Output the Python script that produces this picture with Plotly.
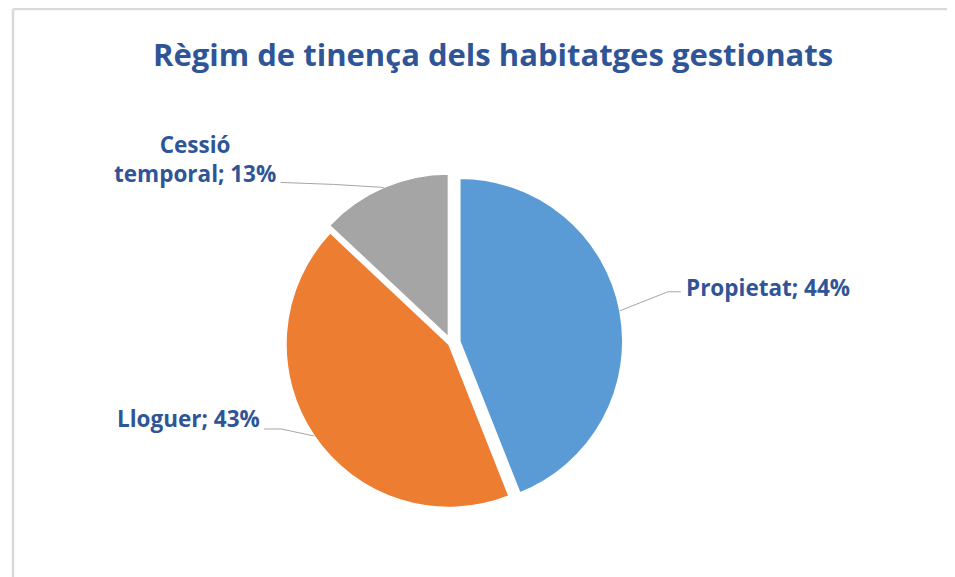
import math
import plotly.graph_objects as go

# ---- data ----
labels = ["Propietat", "Lloguer", "Cessió temporal"]
label_lines = ["Propietat", "Lloguer", "Cessió<br>temporal"]
values = [44, 43, 13]
colors = ["#5B9BD5", "#ED7D31", "#A5A5A5"]
pulls = [0.055, 0.015, 0.04]
title_text = "Règim de tinença dels habitatges gestionats"

# ---- layout geometry (screen pixels; page body has an 8px margin) ----
OFF = 8
W, H = 955 - OFF, 577 - OFF
CX, CY, R = 451, 343, 163
TEXT_COLOR = "#2F5597"
LINE_COLOR = "#A6A6A6"
FONT = "'Open Sans', sans-serif"

def px(x):
    return (x - OFF) / W

def py(y):
    return 1 - (y - OFF) / H

maxpull = max(pulls)
half = R * (1 + maxpull)
domain_x = [px(CX - half), px(CX + half)]
domain_y = [py(CY + half), py(CY - half)]

fig = go.Figure(go.Pie(
    labels=labels,
    values=values,
    sort=False,
    direction="clockwise",
    rotation=0,
    pull=pulls,
    marker=dict(colors=colors, line=dict(color="white", width=1.5)),
    textinfo="none",
    hoverinfo="label+percent",
    showlegend=False,
    domain=dict(x=domain_x, y=domain_y),
))

# leader-line style per slice: (elbow offset from edge, end offset from elbow, label side)
leader = [
    ((48, -19), (13, 0), "left"),
    ((-33, -7), (-17, 0), "right"),
    ((-50, -3), (-53, -2), "right"),
]
label_offsets = [(3, -4), (-2, -10), (-3, -23)]

total = sum(values)
cum = 0
shapes = []
annotations = []
for i, v in enumerate(values):
    mid = (cum + v / 2) / total
    cum += v
    th = 2 * math.pi * mid
    dx, dy = math.sin(th), -math.cos(th)
    ex = CX + (1 + pulls[i]) * R * dx
    ey = CY + (1 + pulls[i]) * R * dy
    (odx, ody), (edx, edy), side = leader[i]
    bx, by = ex + odx, ey + ody
    fx, fy = bx + edx, by + edy
    shapes.append(dict(
        type="path", xref="paper", yref="paper",
        path=f"M {px(ex)},{py(ey)} L {px(bx)},{py(by)} L {px(fx)},{py(fy)}",
        line=dict(color=LINE_COLOR, width=1),
    ))
    pct = round(v / total * 100)
    lx, ly = fx + label_offsets[i][0], fy + label_offsets[i][1]
    annotations.append(dict(
        text=f"<b>{label_lines[i]}; {pct}%</b>",
        x=px(lx), y=py(ly), xref="paper", yref="paper",
        xanchor=side, yanchor="middle", align="center",
        showarrow=False,
        font=dict(family=FONT, size=22.5, color=TEXT_COLOR),
    ))

# title
annotations.append(dict(
    text=f"<b>{title_text}</b>",
    x=px(493), y=py(54), xref="paper", yref="paper",
    xanchor="center", yanchor="middle", showarrow=False,
    font=dict(family=FONT, size=31, color=TEXT_COLOR),
))

# chart-area frame (left and top edges visible)
shapes.append(dict(type="line", xref="paper", yref="paper",
                   x0=px(13), y0=py(9), x1=px(13), y1=py(H + 40),
                   line=dict(color="#D9D9D9", width=2.5)))
shapes.append(dict(type="line", xref="paper", yref="paper",
                   x0=px(13), y0=py(9), x1=px(W + 40), y1=py(9),
                   line=dict(color="#D9D9D9", width=2.5)))

fig.update_layout(
    width=W, height=H,
    margin=dict(l=0, r=0, t=0, b=0),
    paper_bgcolor="white",
    plot_bgcolor="white",
    shapes=shapes,
    annotations=annotations,
)

fig.write_html("out.html")
